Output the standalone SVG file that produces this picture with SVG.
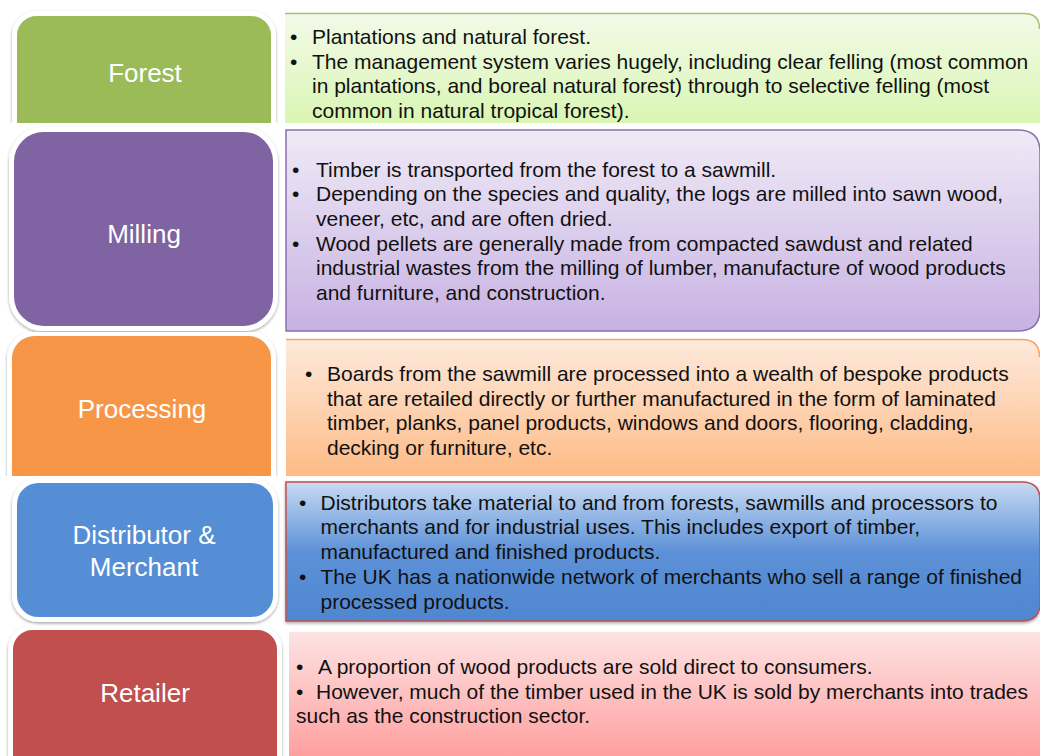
<svg xmlns="http://www.w3.org/2000/svg" width="1040" height="756" viewBox="0 0 1040 756">
<style>
.lbl{font-family:"Liberation Sans",Arial,sans-serif;font-size:26px;fill:#ffffff;text-anchor:middle}
.txt{font-family:"Liberation Sans",Arial,sans-serif;font-size:21px;fill:#111111}
.box{stroke:#ffffff;stroke-width:5}
</style>
<defs>
<filter id="sh" x="-10%" y="-10%" width="120%" height="125%">
<feDropShadow dx="0" dy="1.5" stdDeviation="1.6" flood-color="#000" flood-opacity="0.35"/>
</filter>
<clipPath id="c1"><rect x="0" y="0" width="1040" height="123"/></clipPath>
<clipPath id="c2"><rect x="0" y="124" width="1040" height="209"/></clipPath>
<clipPath id="c3"><rect x="0" y="332" width="1040" height="144"/></clipPath>
<clipPath id="c4"><rect x="0" y="477" width="1040" height="151"/></clipPath>
<clipPath id="c5"><rect x="0" y="626" width="1040" height="130"/></clipPath>
<linearGradient id="gF" x1="0" y1="0" x2="0" y2="1"><stop offset="0" stop-color="#f3fae9"/><stop offset="1" stop-color="#d9f6b3"/></linearGradient>
<linearGradient id="gM" x1="0" y1="0" x2="0" y2="1"><stop offset="0" stop-color="#f0eaf7"/><stop offset="1" stop-color="#c7b2e2"/></linearGradient>
<linearGradient id="gP" x1="0" y1="0" x2="0" y2="1"><stop offset="0" stop-color="#fdeadd"/><stop offset="1" stop-color="#fdbb86"/></linearGradient>
<linearGradient id="gD" x1="0" y1="0" x2="0" y2="1"><stop offset="0" stop-color="#c8dbf3"/><stop offset="0.5" stop-color="#5d91d7"/><stop offset="1" stop-color="#4f86d0"/></linearGradient>
<linearGradient id="gR" x1="0" y1="0" x2="0" y2="1"><stop offset="0" stop-color="#fde3e3"/><stop offset="1" stop-color="#ffa0a0"/></linearGradient>
</defs>
<rect width="1040" height="756" fill="#ffffff"/>

<g id="forest" clip-path="url(#c1)">
<rect class="box" x="14.5" y="13.5" width="259" height="130" rx="22" fill="#9bbb59" filter="url(#sh)"/>
<path d="M285,13 H1024 Q1040,13 1040,29 V123 H285 Z" fill="url(#gF)"/>
<path d="M285,13.5 H1024 Q1039.5,13.5 1039.5,29" fill="none" stroke="#a6c46a" stroke-width="1.5"/>
<text class="lbl" x="145" y="82">Forest</text>
<text class="txt"><tspan x="290" y="44">•</tspan><tspan x="312" y="44">Plantations and natural forest.</tspan><tspan x="290" y="68.5">•</tspan><tspan x="312" y="68.5">The management system varies hugely, including clear felling (most common</tspan><tspan x="312" y="93">in plantations, and boreal natural forest) through to selective felling (most</tspan><tspan x="312" y="117.5">common in natural tropical forest).</tspan></text>
</g>

<g id="milling" clip-path="url(#c2)">
<rect class="box" x="11.5" y="129.5" width="264" height="199" rx="32" fill="#8064a2" filter="url(#sh)"/>
<path d="M286,130 H1018 Q1040,130 1040,152 V309 Q1040,331 1018,331 H286 Z" fill="url(#gM)" stroke="#8a6fae" stroke-width="1.5"/>
<text class="lbl" x="144" y="243">Milling</text>
<text class="txt"><tspan x="292" y="176.5">•</tspan><tspan x="316" y="176.5">Timber is transported from the forest to a sawmill.</tspan><tspan x="292" y="201">•</tspan><tspan x="316" y="201">Depending on the species and quality, the logs are milled into sawn wood,</tspan><tspan x="316" y="225.5">veneer, etc, and are often dried.</tspan><tspan x="292" y="250.5">•</tspan><tspan x="316" y="250.5">Wood pellets are generally made from compacted sawdust and related</tspan><tspan x="316" y="275">industrial wastes from the milling of lumber, manufacture of wood products</tspan><tspan x="316" y="299.5">and furniture, and construction.</tspan></text>
</g>

<g id="processing" clip-path="url(#c3)">
<rect class="box" x="9.5" y="333.5" width="264" height="165" rx="25" fill="#f79646" filter="url(#sh)"/>
<path d="M286,339 H1022 Q1040,339 1040,357 V476 H286 Z" fill="url(#gP)"/>
<path d="M286,339.5 H1022 Q1039.5,339.5 1039.5,357" fill="none" stroke="#f7a25e" stroke-width="1.5"/>
<text class="lbl" x="142" y="418">Processing</text>
<text class="txt"><tspan x="305" y="381">•</tspan><tspan x="327" y="381">Boards from the sawmill are processed into a wealth of bespoke products</tspan><tspan x="327" y="405.5">that are retailed directly or further manufactured in the form of laminated</tspan><tspan x="327" y="430">timber, planks, panel products, windows and doors, flooring, cladding,</tspan><tspan x="327" y="455">decking or furniture, etc.</tspan></text>
</g>

<g id="distributor" clip-path="url(#c4)">
<rect class="box" x="14.5" y="480.5" width="261" height="139" rx="24" fill="#558ed5" filter="url(#sh)"/>
<path d="M286,482 H1022 Q1040,482 1040,500 V603 Q1040,621 1022,621 H286 Z" fill="url(#gD)" stroke="#c0504d" stroke-width="1.5" filter="url(#sh)"/>
<text class="lbl" x="144" y="544">Distributor &amp;</text>
<text class="lbl" x="144" y="576">Merchant</text>
<text class="txt"><tspan x="299" y="509.5">•</tspan><tspan x="320.5" y="509.5">Distributors take material to and from forests, sawmills and processors to</tspan><tspan x="320.5" y="534">merchants and for industrial uses. This includes export of timber,</tspan><tspan x="320.5" y="558.5">manufactured and finished products.</tspan><tspan x="299" y="584">•</tspan><tspan x="320.5" y="584">The UK has a nationwide network of merchants who sell a range of finished</tspan><tspan x="320.5" y="608.5">processed products.</tspan></text>
</g>

<g id="retailer" clip-path="url(#c5)">
<rect class="box" x="10.5" y="627.5" width="269" height="160" rx="22" fill="#c0504d" filter="url(#sh)"/>
<path d="M289,632 H1040 V756 H289 Z" fill="url(#gR)"/>
<text class="lbl" x="145" y="702">Retailer</text>
<text class="txt"><tspan x="296" y="674">•</tspan><tspan x="318" y="674">A proportion of wood products are sold direct to consumers.</tspan><tspan x="296" y="698.5">•</tspan><tspan x="316" y="698.5">However, much of the timber used in the UK is sold by merchants into trades</tspan><tspan x="296" y="723">such as the construction sector.</tspan></text>
</g>
</svg>
